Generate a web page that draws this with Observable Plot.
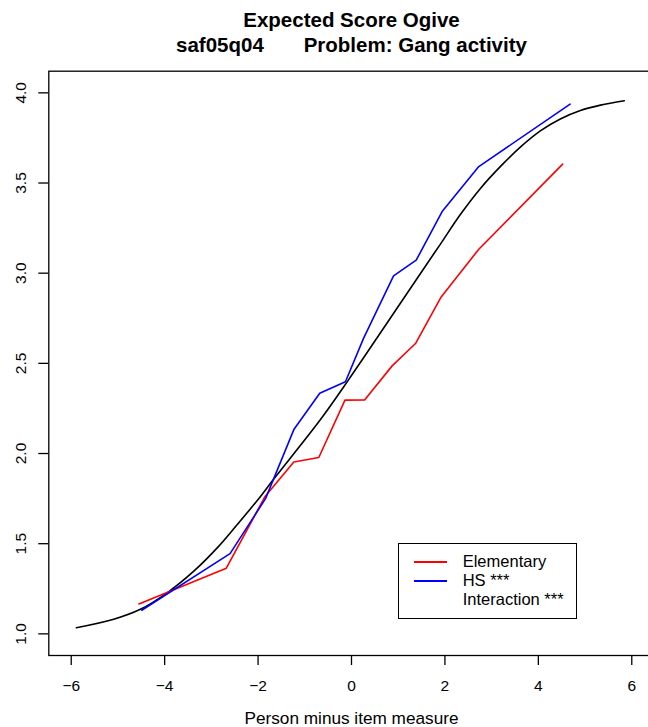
<!DOCTYPE html>
<html><head><meta charset="utf-8">
<script src="https://cdn.jsdelivr.net/npm/d3@7"></script>
<script src="https://cdn.jsdelivr.net/npm/@observablehq/plot@0.6"></script>
<style>
html,body{margin:0;padding:0;overflow:hidden;background:#fff;}
#wrap{position:relative;width:654px;height:727px;font-family:"Liberation Sans",Arial,Helvetica,sans-serif;}
#wrap svg{max-width:none !important;display:block;}
.leg{position:absolute;left:397.7px;top:543.3px;width:179px;height:76px;border:1.3px solid #000;box-sizing:border-box;background:#fff;}
.leg .ln{position:absolute;left:15px;width:33px;height:1.6px;}
.leg .tx{position:absolute;left:64px;font-size:16.5px;line-height:19px;height:19px;white-space:pre;color:#000;}
</style>
</head><body>
<div id="wrap"></div>
<script>
// Black: model expected score ogive
const blackX = [-5.89,-5.09,-4.52,-3.94,-3.37,-2.87,-2.45,-2.0,-1.66,-0.66,-0.06,0.7,1.48,1.9,2.33,2.76,3.19,3.62,4.05,4.47,4.9,5.33,5.84];
const blackY = [1.034,1.081,1.136,1.229,1.349,1.478,1.605,1.745,1.86,2.19,2.41,2.70,3.0,3.16,3.325,3.47,3.592,3.70,3.79,3.855,3.902,3.932,3.956];
// Red: Elementary
const redX = [-4.55,-2.68,-1.855,-1.235,-0.70,-0.14,0.28,0.87,1.37,1.92,2.725,4.52];
const redY = [1.166,1.364,1.76,1.953,1.978,2.296,2.297,2.486,2.61,2.868,3.133,3.605];
// Blue: HS
const blueX = [-4.49,-2.60,-1.84,-1.23,-0.68,-0.13,0.26,0.90,1.385,1.94,2.725,4.68];
const blueY = [1.131,1.445,1.75,2.135,2.334,2.398,2.64,2.985,3.072,3.342,3.591,3.937];

const xTicks = [-6,-4,-2,0,2,4,6];
const yTicks = [1.0,1.5,2.0,2.5,3.0,3.5,4.0];
const legendLabels = ["Elementary","HS ***","Interaction ***"];
const legendColors = ["#ff0000","#0000ff",null];
const titleLines = ["Expected Score Ogive","saf05q04       Problem: Gang activity"];
const xLabel = "Person minus item measure";

const toRows = (xs, ys) => xs.map((x, i) => ({x, y: ys[i]}));
const black = toRows(blackX, blackY);
const red = toRows(redX, redY);
const blue = toRows(blueX, blueY);

const font = '"Liberation Sans",Arial,Helvetica,sans-serif';
const mL = 48.3, mT = 70.7, W = 654, H = 727, mR = 0.3, mB = 72;

const chart = Plot.plot({
  width: W, height: H,
  marginLeft: mL, marginRight: mR, marginTop: mT, marginBottom: mB,
  style: {fontFamily: font, background: "#fff", color: "#000", overflow: "visible"},
  x: {domain: [-6.48, 6.48], axis: null, label: null},
  y: {domain: [0.88, 4.12], axis: null, label: null},
  marks: [
    Plot.line(black, {x: "x", y: "y", stroke: "#000", strokeWidth: 1.6, curve: "catmull-rom"}),
    Plot.line(red, {x: "x", y: "y", stroke: "#ff0000", strokeWidth: 1.6}),
    Plot.line(blue, {x: "x", y: "y", stroke: "#0000ff", strokeWidth: 1.6}),
    Plot.frame({stroke: "#000", strokeWidth: 1.3}),
    Plot.axisX(xTicks, {anchor: "bottom", tickSize: 10, tickFormat: () => "", label: null, strokeWidth: 1.3, stroke: "#000"}),
    Plot.axisY(yTicks, {anchor: "left", tickSize: 10, tickFormat: () => "", label: null, strokeWidth: 1.3, stroke: "#000"}),
    Plot.text(xTicks, {x: d => d, text: d => d < 0 ? "\u2212" + (-d) : String(d), frameAnchor: "bottom", dy: 35, lineAnchor: "bottom", fontSize: 15.5, fill: "#000"}),
    Plot.text(yTicks, {y: d => d, text: d => d.toFixed(1), frameAnchor: "left", dx: -23.3, rotate: -90, lineAnchor: "bottom", textAnchor: "middle", fontSize: 15.5, fill: "#000"}),
    Plot.text([titleLines[0]], {text: d => d, frameAnchor: "top", dy: 27 - mT, lineAnchor: "bottom", fontWeight: "bold", fontSize: 20.5, fill: "#000"}),
    Plot.text([titleLines[1]], {text: d => d, frameAnchor: "top", dy: 51.5 - mT, lineAnchor: "bottom", fontWeight: "bold", fontSize: 20.5, fill: "#000"}),
    Plot.text([xLabel], {text: d => d, frameAnchor: "bottom", dy: 723.5 - (H - mB), lineAnchor: "bottom", fontSize: 17.2, fill: "#000"})
  ]
});
const wrap = document.getElementById("wrap");
wrap.appendChild(chart);

// Legend box
const leg = document.createElement("div");
leg.className = "leg";
legendLabels.forEach((lab, i) => {
  const cy = 19 + 18.85 * i;
  if (legendColors[i]) {
    const ln = document.createElement("div");
    ln.className = "ln";
    ln.style.top = (cy - 0.8 - 1.3) + "px";
    ln.style.background = legendColors[i];
    leg.appendChild(ln);
  }
  const tx = document.createElement("div");
  tx.className = "tx";
  tx.style.top = (cy - 9.5 - 1.3) + "px";
  tx.textContent = lab;
  leg.appendChild(tx);
});
wrap.appendChild(leg);
</script>
</body></html>
